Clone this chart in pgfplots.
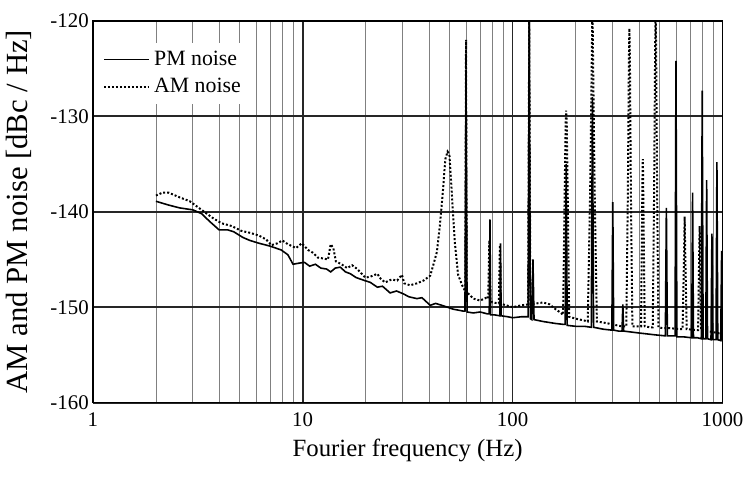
\documentclass[border=0pt]{standalone}
\usepackage{fontspec}
\setmainfont{Liberation Serif}
\usepackage{pgfplots}
\pgfplotsset{compat=1.18}

\begin{document}
\begin{tikzpicture}
\begin{axis}[
  name=ax,
  scale only axis, width=317.5pt, height=192.5pt,
  xmode=log, xmin=1, xmax=1000, ymin=-160, ymax=-120,
  xtick={1,10,100,1000}, xticklabels={1,10,100,1000},
  minor xtick={2,3,4,5,6,7,8,9,20,30,40,50,60,70,80,90,200,300,400,500,600,700,800,900},
  ytick={-160,-150,-140,-130,-120}, yticklabels={-160,-150,-140,-130,-120},
  major tick length=0pt, minor tick length=0pt,
  xmajorgrids, xminorgrids, ymajorgrids,
  major grid style={black!85, line width=0.85pt},
  minor grid style={black!50, line width=0.4pt},
  axis line style={black, line width=0.8pt},
  tick label style={font=\fontsize{10.5}{12.5}\selectfont},
  yticklabel style={xshift=1.5pt},
  xticklabel style={yshift=-1.5pt},
  xlabel={Fourier frequency (Hz)},
  ylabel={AM and PM noise [dBc / Hz]},
  xlabel style={font=\fontsize{12.5}{15}\selectfont, at={(axis description cs:0.5,0)}, anchor=center, yshift=-24pt},
  ylabel style={font=\fontsize{15.5}{18}\selectfont, at={(axis description cs:-0.1165,0.5)}, anchor=center},
  legend style={at={(axis description cs:0,1)}, anchor=north west, xshift=3pt, yshift=-11pt,
                draw=none, fill=white, font=\fontsize{11}{13}\selectfont,
                cells={anchor=west}, inner sep=2pt, row sep=1pt},
  legend image code/.code={\draw[#1] (0cm,0cm) -- (0.8cm,0cm);},
]
% PM noise
\addplot[black, line width=0.8pt] coordinates {
(2,-138.9)(2.3,-139.3)(2.6,-139.6)(3.0,-139.8)(3.3,-140.2)(3.6,-141.0)(4.0,-141.9)(4.4,-141.9)(4.7,-142.1)
(5.2,-142.7)(5.6,-143.0)(6.2,-143.3)(7.0,-143.6)(7.9,-144.0)(8.5,-144.5)(9.0,-145.5)(9.5,-145.4)(10.2,-145.3)
(10.8,-145.7)(11.5,-145.5)(12.2,-145.9)(13.0,-146.0)(13.6,-146.3)(14.3,-145.9)(15.1,-145.8)(16,-146.3)
(16.9,-146.5)(18,-146.9)(19.7,-147.2)(21,-147.4)(22.7,-147.9)(24,-147.8)(26.1,-148.5)(28,-148.3)(30.2,-148.6)
(32,-148.9)(35,-149.1)(37,-149.0)(40.5,-149.8)(43,-149.6)(46,-149.8)(49,-150.0)(52,-150.2)(55,-150.3)(58,-150.4)
(59.3,-150.4)(60,-125.3)(60.7,-150.5)(65,-150.6)(70,-150.5)(76,-150.7)
(77.4,-150.7)(78,-140.8)(78.6,-150.8)(82,-150.8)(87,-150.9)(87.6,-143.3)(88.2,-150.9)
(95,-151.0)(100,-151.1)(110,-151.0)(118.5,-151.0)(120,-120)(121.5,-151.2)
(123.5,-151.3)(125,-145)(126.5,-151.3)(140,-151.5)(160,-151.7)(175,-151.8)
(178,-151.8)(180,-135)(182,-151.9)(200,-152)(220,-152)(237,-152.1)(240,-128)(243,-152.1)
(270,-152.3)(297,-152.4)(300,-139)(303,-152.4)(320,-152.5)(332,-152.5)(335,-149.7)(338,-152.5)
(400,-152.7)(480,-152.9)(534,-153)(540,-139.6)(546,-153)(594,-153)(600,-124.2)(606,-153.1)
(650,-153.1)(713,-153.2)(720,-138)(727,-153.2)(760,-153.2)(792,-153.3)(800,-127.3)(808,-153.3)
(832,-153.3)(840,-136.7)(848,-153.3)(881,-153.4)(890,-142.3)(899,-153.4)(931,-153.4)(940,-134.8)(949,-153.4)
(980,-153.5)(990,-144.1)(1000,-153.5)
};
\addlegendentry{PM noise}
% AM noise
\addplot[black, line width=1pt, densely dotted] coordinates {
(2,-138.3)(2.15,-138.0)(2.3,-138.0)(2.6,-138.5)(2.9,-138.9)(3.3,-139.8)(3.7,-140.6)(4.1,-141.2)(4.6,-141.5)
(5.1,-142.0)(5.6,-142.2)(6.2,-142.5)(6.7,-142.9)(7.1,-143.5)(7.6,-143.3)(8.0,-143.0)(8.5,-143.4)(9.3,-143.8)
(9.9,-143.3)(10.6,-144.0)(11.2,-144.3)(11.8,-144.8)(12.6,-144.9)(13.2,-145.0)(13.6,-143.4)(14.0,-143.8)
(14.4,-145.2)(15.3,-145.5)(16.3,-145.9)(17.2,-145.6)(18.2,-146.0)(19.9,-146.9)(21,-146.8)(22.7,-146.5)
(23.5,-147.0)(24.7,-147.4)(26.5,-147.1)(28.2,-147.2)(29.7,-146.6)(30.5,-147.5)(32.5,-147.7)(35,-147.5)
(37.7,-147.2)(40.5,-146.7)(42,-145.5)(43.6,-144.2)(45,-141.5)(46.5,-138)(47.8,-134.5)(49,-133.7)(50,-134.0)
(51.4,-138.2)(53,-143.1)(55,-146.6)(58,-147.9)(59.5,-148.3)(60,-122)(60.5,-148.4)(65,-149.1)(70,-149.3)
(75,-149.0)(76.5,-149.1)(77.5,-143)(78.5,-149.2)(80,-149.5)(86,-149.6)(87,-143.5)(88,-149.6)
(90,-149.7)(100,-150.0)(110,-149.8)(118.5,-149.7)(120,-120)(121.5,-149.7)(130,-149.6)(140,-149.5)
(150,-149.7)(160,-150.2)(170,-150.6)(174,-150.8)(177,-138)(179,-130.5)(180,-129.4)(181,-130.5)(183,-138)(186,-151)
(200,-151.2)(220,-151.4)(228,-151.5)(234,-138)(238,-125)(240,-118)(242,-125)(246,-138)(252,-151.5)(270,-151.6)(300,-151.8)
(330,-152)(348,-152)(354,-138)(358,-124)(360,-120.8)(362,-124)(366,-138)(372,-152)(400,-152)(409,-152)(413,-142)(416,-135.5)(417,-134.5)
(418,-135.5)(421,-142)(426,-152)(450,-152.1)(465,-152.1)(472,-138)(477,-124)(480,-118)(483,-124)(488,-138)(495,-152.1)(520,-152.2)
(560,-152.2)(645,-152.3)(655,-145)(660,-140.5)(665,-145)(675,-152.3)(765,-152.4)(772,-146)(778,-141.5)
(784,-146)(790,-152.4)(850,-152.5)(1000,-152.8)
};
\addlegendentry{AM noise}
\end{axis}
\useasboundingbox ([xshift=-46.5pt,yshift=-40pt]ax.south west) rectangle ([xshift=11pt,yshift=10.5pt]ax.north east);
\end{tikzpicture}
\end{document}
